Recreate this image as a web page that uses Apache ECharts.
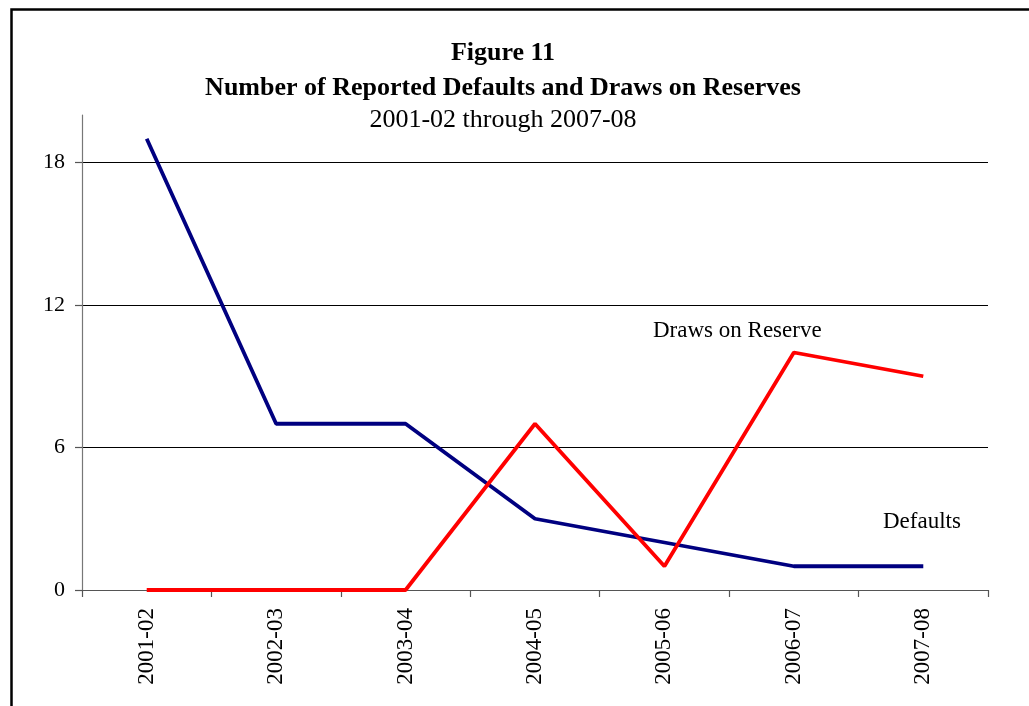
<!DOCTYPE html>
<html>
<head>
<meta charset="utf-8">
<script src="https://cdn.jsdelivr.net/npm/echarts@6/dist/echarts.min.js"></script>
<style>
html,body{margin:0;padding:0;background:#fff;}
#chart{width:1029px;height:706px;}
</style>
</head>
<body>
<div id="chart"></div>
<script>
const categories = ['2001-02','2002-03','2003-04','2004-05','2005-06','2006-07','2007-08'];
const defaults = [19, 7, 7, 3, 2, 1, 1];
const draws = [0, 0, 0, 7, 1, 10, 9];
const yTicks = [0, 6, 12, 18];

const FONT = '"Liberation Serif", "Times New Roman", serif';
const chart = echarts.init(document.getElementById('chart'));
chart.setOption({
  backgroundColor: '#fff',
  animation: false,
  title: [
    { text: 'Figure 11', left: 498, top: 35, textAlign: 'center',
      textStyle: { fontFamily: FONT, fontWeight: 'bold', fontSize: 26, color: '#000' } },
    { text: 'Number of Reported Defaults and Draws on Reserves', left: 498, top: 70, textAlign: 'center',
      textStyle: { fontFamily: FONT, fontWeight: 'bold', fontSize: 26, color: '#000' } },
    { text: '2001-02 through 2007-08', left: 498, top: 102, textAlign: 'center',
      textStyle: { fontFamily: FONT, fontWeight: 'normal', fontSize: 26, color: '#000' } }
  ],
  grid: { left: 82, right: 41, top: 115, bottom: 116, containLabel: false },
  xAxis: {
    type: 'category',
    data: categories,
    boundaryGap: true,
    axisLine: { show: true, lineStyle: { color: '#555', width: 1.2 } },
    axisTick: { show: true, length: 7, inside: false, alignWithLabel: false, lineStyle: { color: '#555', width: 1.2 } },
    axisLabel: { rotate: 90, margin: 18, fontFamily: FONT, fontSize: 23, color: '#000', interval: 0 }
  },
  yAxis: {
    type: 'value',
    min: 0, max: 20, interval: 6,
    axisLine: { show: true, lineStyle: { color: '#777', width: 1.2 } },
    axisTick: { show: true, length: 7, customValues: yTicks, lineStyle: { color: '#555', width: 1.2 } },
    axisLabel: { customValues: yTicks, margin: 17, fontFamily: FONT, fontSize: 22, color: '#000' },
    splitLine: { show: true, lineStyle: { color: ['#000', '#000', '#000', '#000', 'rgba(0,0,0,0)'], width: 1 } }
  },
  series: [
    { name: 'Defaults', type: 'line', data: defaults, symbol: 'none',
      lineStyle: { color: '#000080', width: 3.8 }, z: 3 },
    { name: 'Draws on Reserve', type: 'line', data: draws, symbol: 'none',
      lineStyle: { color: '#FF0000', width: 3.8 }, z: 4 }
  ],
  graphic: [
    { type: 'rect', left: 9, top: 7, shape: { width: 1040, height: 720 },
      style: { fill: 'none', stroke: '#000', lineWidth: 2.5 }, z: 10 },
    { type: 'text', left: 653, top: 319,
      style: { text: 'Draws on Reserve', fontFamily: FONT, fontSize: 23, fill: '#000' } },
    { type: 'text', left: 883, top: 510,
      style: { text: 'Defaults', fontFamily: FONT, fontSize: 23, fill: '#000' } }
  ]
});
</script>
</body>
</html>
